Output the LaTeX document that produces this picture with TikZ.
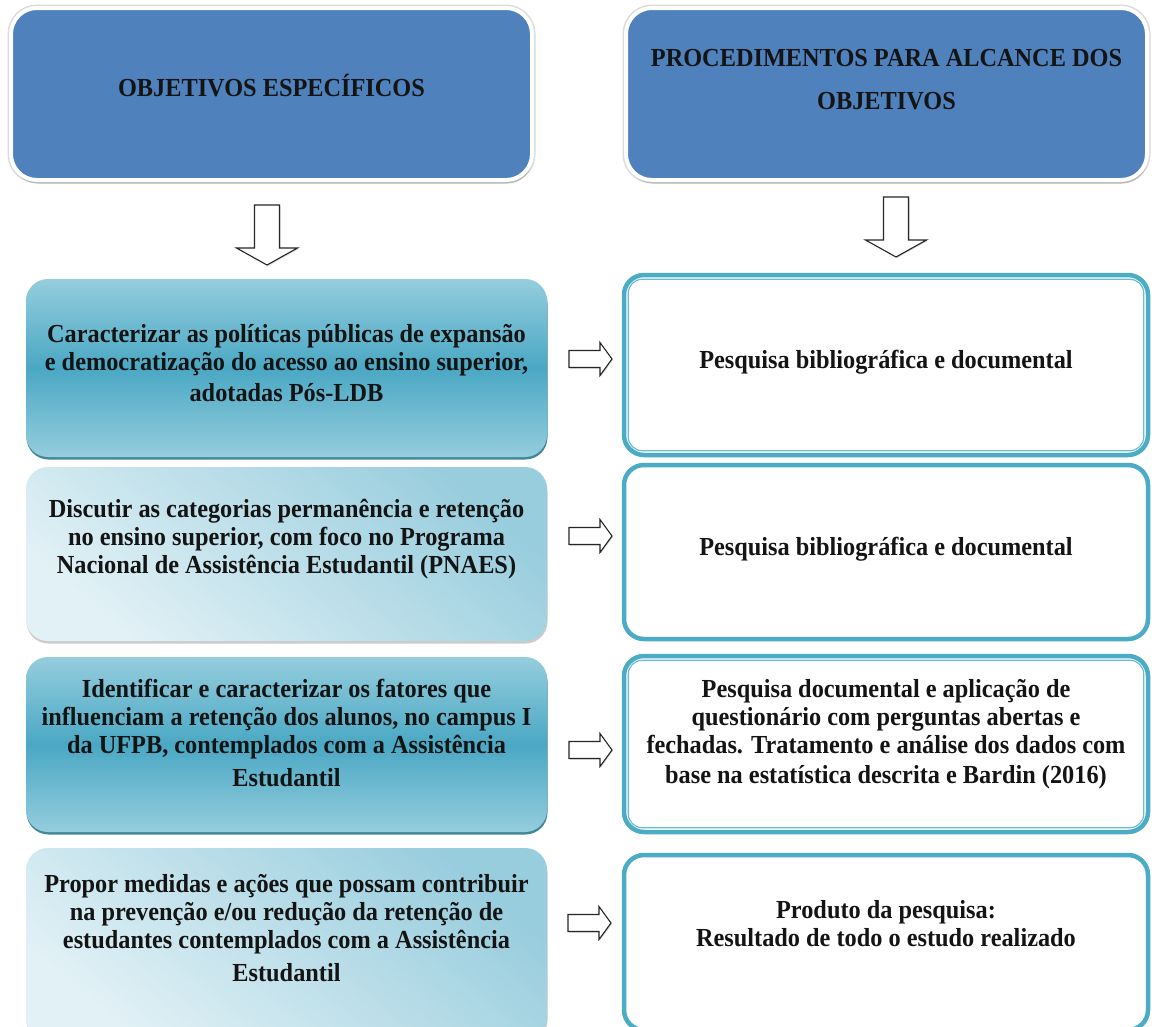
\documentclass[tikz,border=0pt]{standalone}
\usepackage{fontspec}
\setmainfont{Liberation Serif}[FakeStretch=0.935]
\usetikzlibrary{shadows,calc}
\definecolor{hdrblue}{HTML}{4F81BD}
\definecolor{tealmid}{HTML}{4AA8C4}
\definecolor{teallight}{HTML}{95CDDD}
\definecolor{tealdark}{HTML}{2F7A91}
\definecolor{paleA}{HTML}{E2F1F6}
\definecolor{paleB}{HTML}{98CDDD}
\definecolor{rborder}{HTML}{4BACC6}
\definecolor{rinner}{HTML}{6DBBD0}
\begin{document}
\begin{tikzpicture}[x=1pt,y=-1pt,
  hdrbox/.style={draw=white, line width=4pt, fill=hdrblue, rounded corners=26pt,
    inner sep=0pt, minimum width=521pt, minimum height=172pt,
    preaction={draw=black!14, line width=7pt},
    drop shadow={shadow xshift=1pt, shadow yshift=-3.5pt, fill=black!50, opacity=.4}},
  lbox/.style={rounded corners=22pt, inner sep=0pt, minimum width=521pt},
  lboxdark/.style={lbox, top color=teallight, bottom color=teallight, middle color=tealmid,
    drop shadow={shadow xshift=0.5pt, shadow yshift=-2.5pt, fill=tealdark, opacity=.9}},
  lboxpale/.style={lbox, left color=paleB, right color=paleA, shading angle=-40,
    drop shadow={shadow xshift=0.5pt, shadow yshift=-2.5pt, fill=black!45, opacity=.45}},
  rbox/.style={draw=rborder, line width=4.5pt, fill=white, rounded corners=20pt,
    inner sep=0pt, minimum width=524pt},
  rinnerline/.style={draw=rinner, line width=1.2pt, rounded corners=14pt},
  txt/.style={font=\bfseries\fontsize{26}{28}\selectfont, align=center, inner sep=0pt, text=black!92},
  arrowline/.style={draw=black!85, line width=1.1pt, fill=white,
    drop shadow={shadow xshift=1pt, shadow yshift=-1pt, fill=black!40, opacity=.4}},
  rarrow/.pic={\draw[arrowline] (0,-8.5) -- (31,-8.5) -- (31,-16.5) -- (43,0) -- (31,16.5) -- (31,8.5) -- (0,8.5) -- cycle;},
  darrow/.pic={\draw[arrowline] (-12.5,0) -- (12.5,0) -- (12.5,43) -- (30.5,43) -- (0,60) -- (-30.5,43) -- (-12.5,43) -- cycle;}
]
\useasboundingbox[fill=white] (0,0) rectangle (1157,1026);

% headers
\node[hdrbox] (HL) at (271.5,94) {};
\node[hdrbox] (HR) at (886.5,94) {};
\node[txt] (HLt) at ($(HL.center)+(0,-8)$) {OBJETIVOS ESPECÍFICOS};
\node[txt] (HRt) at ($(HR.center)+(0,-14)$) {PROCEDIMENTOS PARA ALCANCE DOS\\[15pt]OBJETIVOS};

% down arrows
\coordinate (dL) at (267,205);
\coordinate (dR) at (896,197);
\pic at (dL) {darrow};
\pic at (dR) {darrow};

% left boxes
\node[lboxdark, minimum height=178pt] (L1) at (286.5,368) {};
\node[lboxpale, minimum height=174pt] (L2) at (286.5,554) {};
\node[lboxdark, minimum height=175pt] (L3) at (286.5,744.5) {};
\node[lboxpale, minimum height=192pt] (L4) at (286.5,944) {};

\node[txt] (L1t) at (286.5,363) {Caracterizar as políticas públicas de expansão\\e democratização do acesso ao ensino superior,\\[3pt]adotadas Pós-LDB};
\node[txt] (L2t) at (286.5,539) {Discutir as categorias permanência e retenção\\no ensino superior, com foco no Programa\\Nacional de Assistência Estudantil (PNAES)};
\node[txt] (L3t) at (286.5,733) {Identificar e caracterizar os fatores que\\influenciam a retenção dos alunos, no campus I\\da UFPB, contemplados com a Assistência\\[5pt]Estudantil};
\node[txt] (L4t) at (286.5,928) {Propor medidas e ações que possam contribuir\\na prevenção e/ou redução da retenção de\\estudantes contemplados com a Assistência\\[5pt]Estudantil};

% right boxes
\node[rbox, minimum height=180pt] (R1) at (886,365) {};
\node[rbox, minimum height=174pt] (R2) at (886,552) {};
\node[rbox, minimum height=176pt] (R3) at (886,744) {};
\node[rbox, minimum height=175pt] (R4) at (886,942.5) {};
\draw[rinnerline] ([shift={(6.5,6.5)}]R1.north west) rectangle ([shift={(-6.5,-6.5)}]R1.south east);
\draw[rinnerline] ([shift={(6.5,6.5)}]R3.north west) rectangle ([shift={(-6.5,-6.5)}]R3.south east);

\node[txt] (R1t) at (886,362) {Pesquisa bibliográfica e documental};
\node[txt] (R2t) at (886,549) {Pesquisa bibliográfica e documental};
\node[txt] (R3t) at (886,734) {Pesquisa documental e aplicação de\\questionário com perguntas abertas e\\fechadas. Tratamento e análise dos dados com\\[2pt]base na estatística descrita e Bardin (2016)};
\node[txt] (R4t) at (886,924) {Produto da pesquisa:\\Resultado de todo o estudo realizado};

% right arrows
\coordinate (a1) at (569,359);
\coordinate (a2) at (569,536);
\coordinate (a3) at (569,750);
\coordinate (a4) at (568,923);
\pic at (a1) {rarrow};
\pic at (a2) {rarrow};
\pic at (a3) {rarrow};
\pic at (a4) {rarrow};
\end{tikzpicture}
\end{document}
